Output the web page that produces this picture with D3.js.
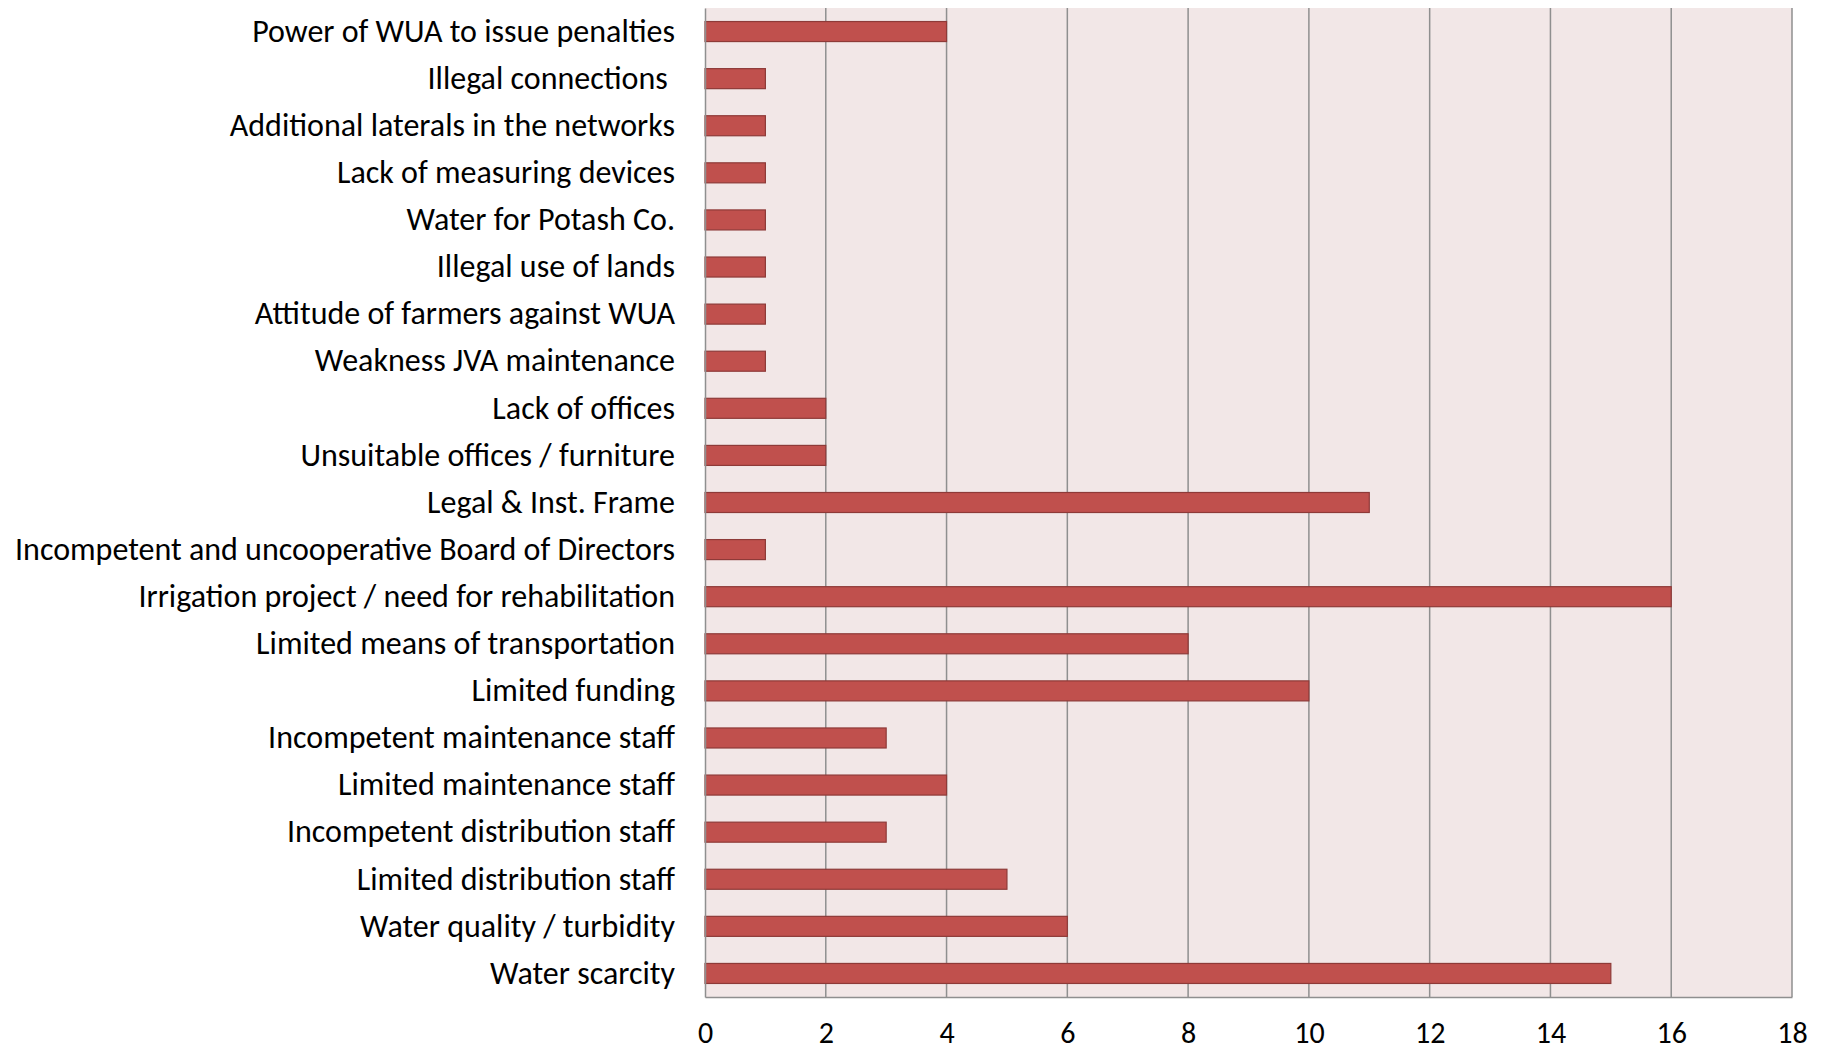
<!DOCTYPE html>
<html>
<head>
<meta charset="utf-8">
<script src="https://cdn.jsdelivr.net/npm/d3@7"></script>
<style>
  body { margin: 0; background: #fff; }
  text { font-family: Carlito, Calibri, Lato, sans-serif; fill: #000; }
</style>
</head>
<body>
<div id="chart"></div>
<script>
// Categories, top to bottom
const categories = [
  "Power of WUA to issue penalties",
  "Illegal connections ",
  "Additional laterals in the networks",
  "Lack of measuring devices",
  "Water for Potash Co.",
  "Illegal use of lands",
  "Attitude of farmers against WUA",
  "Weakness JVA maintenance",
  "Lack of offices",
  "Unsuitable offices / furniture",
  "Legal & Inst. Frame",
  "Incompetent and uncooperative Board of Directors",
  "Irrigation project / need for rehabilitation",
  "Limited means of transportation",
  "Limited funding",
  "Incompetent maintenance staff",
  "Limited maintenance staff",
  "Incompetent distribution staff",
  "Limited distribution staff",
  "Water quality / turbidity",
  "Water scarcity"
];
const counts = [4, 1, 1, 1, 1, 1, 1, 1, 2, 2, 11, 1, 16, 8, 10, 3, 4, 3, 5, 6, 15];
const xTicks = [0, 2, 4, 6, 8, 10, 12, 14, 16, 18];

const W = 1827, H = 1051;
const margin = { top: 8, right: 35, bottom: 54, left: 705 },
      width = W - margin.left - margin.right,
      height = H - margin.top - margin.bottom;

const data = categories.map((c, i) => ({ cat: c, val: counts[i] }));

const svg = d3.select("#chart").append("svg")
    .attr("width", W)
    .attr("height", H)
  .append("g")
    .attr("transform", `translate(${margin.left},${margin.top})`);

const x = d3.scaleLinear().domain([0, 18]).range([0, width]);
const y = d3.scaleBand().domain(categories).range([0, height]).paddingInner(0.575).paddingOuter(0.2875);

// plot background
svg.append("rect")
  .attr("width", width).attr("height", height)
  .attr("fill", "#f2e7e7");

// vertical grid
svg.selectAll(".grid")
  .data(xTicks.slice(1))
  .enter().append("line")
    .attr("x1", d => x(d)).attr("x2", d => x(d))
    .attr("y1", 0).attr("y2", height)
    .attr("stroke", "#8f8f8f").attr("stroke-width", 1.5);

// bars
svg.selectAll(".bar")
  .data(data)
  .enter().append("rect")
    .attr("x", x(0))
    .attr("y", d => y(d.cat))
    .attr("width", d => x(d.val) - x(0))
    .attr("height", y.bandwidth())
    .attr("fill", "#c0504d")
    .attr("stroke", "#8e3a38")
    .attr("stroke-width", 1.2);

// x axis
const xAxis = svg.append("g")
  .attr("transform", `translate(0,${height})`)
  .call(d3.axisBottom(x).tickValues(xTicks).tickSize(0).tickPadding(25));
xAxis.select(".domain").attr("stroke", "#8f8f8f").attr("stroke-width", 1.5);
xAxis.selectAll("text").style("font-size", "30px").attr("font-family", null);

// y axis
const yAxis = svg.append("g")
  .call(d3.axisLeft(y).tickSize(0).tickPadding(30));
yAxis.select(".domain").attr("stroke", "#8f8f8f").attr("stroke-width", 1.5);
yAxis.selectAll("text")
  .style("font-size", "32px")
  .style("white-space", "pre")
  .attr("font-family", null);
</script>
</body>
</html>
